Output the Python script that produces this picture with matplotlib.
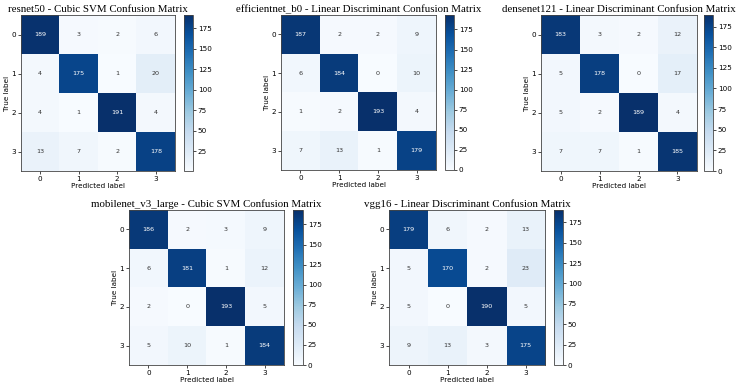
import numpy as np
import matplotlib
matplotlib.use("Agg")
import matplotlib.pyplot as plt

W, H = 736, 388

titles = [
    "resnet50 - Cubic SVM Confusion Matrix",
    "efficientnet_b0 - Linear Discriminant Confusion Matrix",
    "densenet121 - Linear Discriminant Confusion Matrix",
    "mobilenet_v3_large - Cubic SVM Confusion Matrix",
    "vgg16 - Linear Discriminant Confusion Matrix",
]

labels = ["0", "1", "2", "3"]

resnet50 = [[189, 3, 2, 6],
            [4, 175, 1, 20],
            [4, 1, 191, 4],
            [13, 7, 2, 178]]
efficientnet_b0 = [[187, 2, 2, 9],
                   [6, 184, 0, 10],
                   [1, 2, 193, 4],
                   [7, 13, 1, 179]]
densenet121 = [[183, 3, 2, 12],
               [5, 178, 0, 17],
               [5, 2, 189, 4],
               [7, 7, 1, 185]]
mobilenet_v3_large = [[186, 2, 3, 9],
                      [6, 181, 1, 12],
                      [2, 0, 193, 5],
                      [5, 10, 1, 184]]
vgg16 = [[179, 6, 2, 13],
         [5, 170, 2, 23],
         [5, 0, 190, 5],
         [9, 13, 3, 175]]

matrices = [resnet50, efficientnet_b0, densenet121, mobilenet_v3_large, vgg16]

# pixel boxes: (axes left, top, right, bottom), (cbar left, right)
boxes = [
    ((21, 15, 175, 171), (184, 193)),
    ((281, 15, 436, 170), (445, 454)),
    ((541, 15, 697, 171), (704, 713)),
    ((129, 210, 284, 365), (293, 303)),
    ((389, 210, 545, 365), (554, 563)),
]


def rect(l, t, r, b):
    return [l / W, 1 - b / H, (r - l) / W, (b - t) / H]


fig = plt.figure(figsize=(W / 100, H / 100), dpi=100)
cmap = plt.get_cmap("Blues")

for title, cm, (ab, cb) in zip(titles, matrices, boxes):
    cm = np.array(cm)
    ax = fig.add_axes(rect(*ab))
    cax = fig.add_axes(rect(cb[0], ab[1], cb[1], ab[3]))
    im = ax.imshow(cm, cmap=cmap, interpolation="nearest", aspect="auto")
    thresh = (cm.max() + cm.min()) / 2.0
    for i in range(cm.shape[0]):
        for j in range(cm.shape[1]):
            color = "white" if cm[i, j] > thresh else "#333333"
            ax.text(j, i, str(cm[i, j]), ha="center", va="center",
                    fontsize=4.6, color=color)
    ax.set_xticks(range(4))
    ax.set_yticks(range(4))
    ax.set_xticklabels(labels)
    ax.set_yticklabels(labels)
    ax.set_xlabel("Predicted label", fontsize=5.2, labelpad=1)
    ax.set_ylabel("True label", fontsize=5.2, labelpad=1)
    ax.tick_params(labelsize=5.2, length=2, width=0.5, pad=1.5)
    for s in ax.spines.values():
        s.set_linewidth(0.6)
        s.set_color("#444444")
    ax.set_title(title, fontsize=7.8, family="Liberation Serif", pad=2)
    cbar = fig.colorbar(im, cax=cax)
    cbar.ax.tick_params(labelsize=5.2, length=2, width=0.5, pad=1.5)
    cbar.outline.set_linewidth(0.6)
    cbar.outline.set_edgecolor("#444444")

fig.savefig("out.png", dpi=100)
